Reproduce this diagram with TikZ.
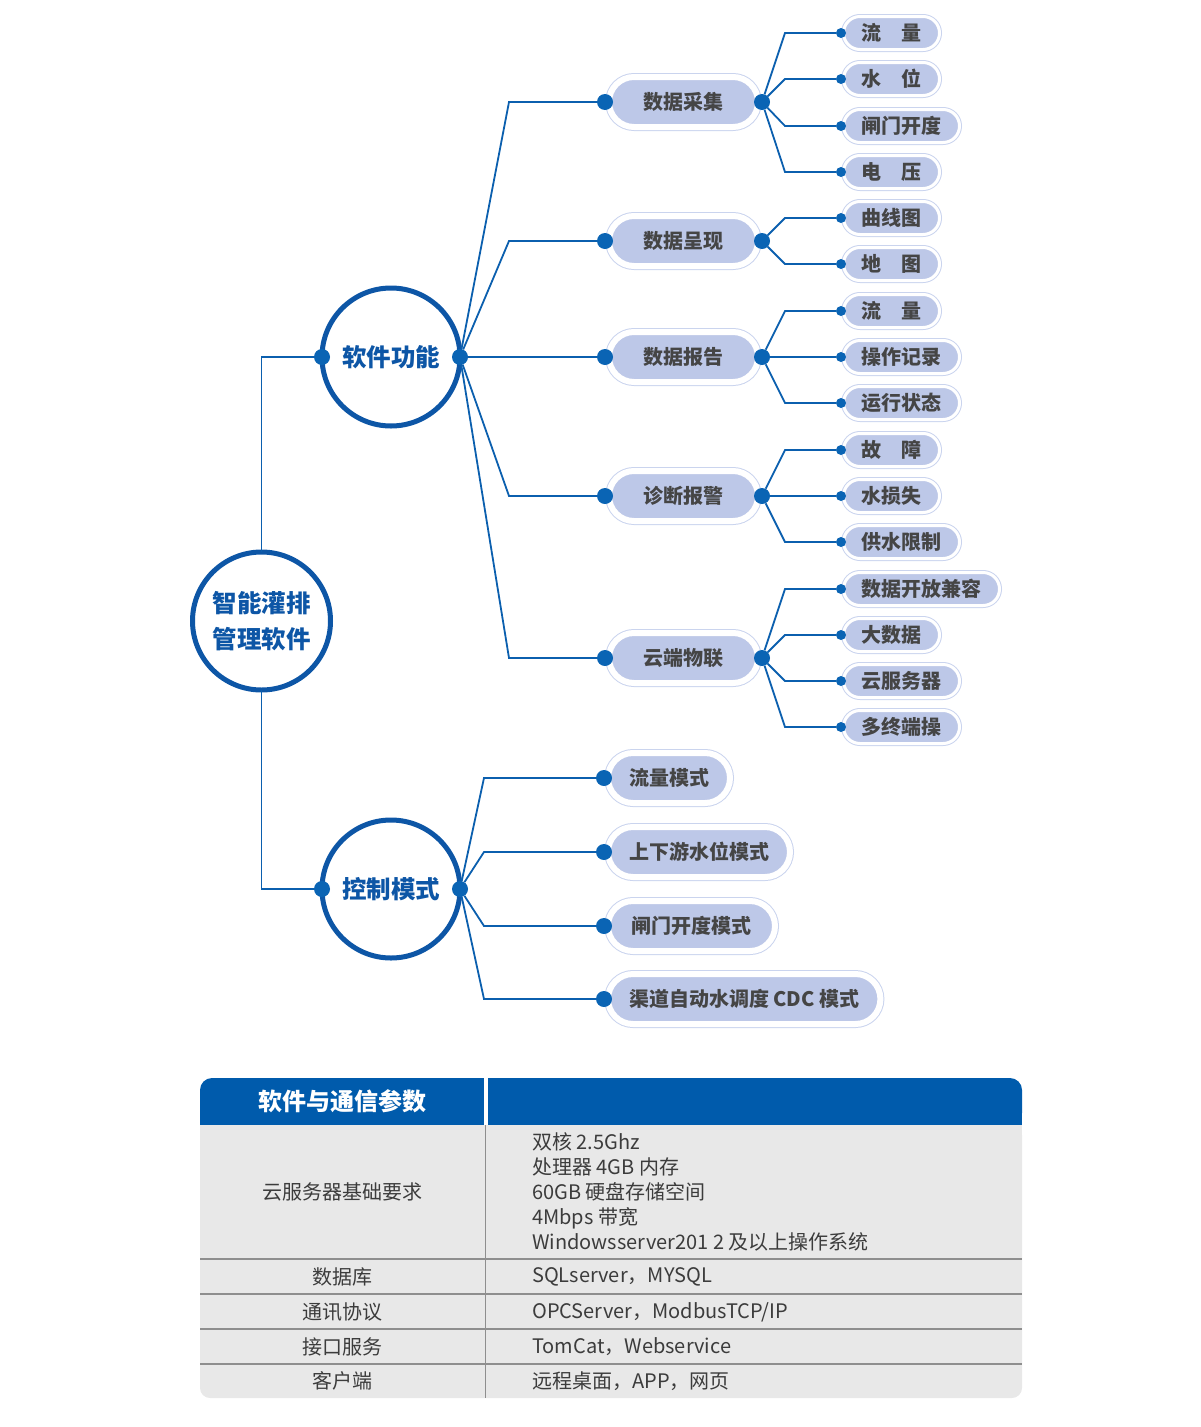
\documentclass[tikz,border=0pt]{standalone}
\usepackage{fontspec}
\setmainfont{Noto Sans CJK SC}
\usepackage{xcolor}
\usepackage{tikz}
\usetikzlibrary{calc}
\definecolor{lineblue}{HTML}{0B5FAE}
\definecolor{beadblue}{HTML}{0A64B4}
\definecolor{hubblue}{HTML}{0D56A6}
\definecolor{pillfill}{HTML}{BDC8E8}
\definecolor{pillring}{HTML}{CAD4EE}
\definecolor{pilltext}{HTML}{454545}
\definecolor{headblue}{HTML}{005BAC}
\definecolor{tablegray}{HTML}{E8E8E8}
\definecolor{rulegray}{HTML}{8E8E8E}
\definecolor{celltext}{HTML}{3C3C3C}
\tikzstyle{branch} = [draw=lineblue, line width=1.8pt]
\tikzstyle{bead} = [circle, fill=beadblue, inner sep=0pt, minimum size=10pt]
\tikzstyle{bigbead} = [circle, fill=beadblue, inner sep=0pt, minimum size=16pt]
\tikzstyle{hub} = [circle, draw=hubblue, line width=5pt, fill=white, minimum size=138pt, inner sep=0pt, outer sep=0pt, text=hubblue, font=\fontsize{24.5}{36}\selectfont\bfseries, align=center]
\tikzstyle{midpill} = [rectangle, rounded corners=25pt, minimum width=149pt, minimum height=50pt, inner sep=0pt, outer sep=4pt, fill=pillfill, draw=white, line width=6pt, preaction={draw=pillring, line width=8pt}, text=pilltext, font=\fontsize{20}{24}\selectfont\bfseries]
\tikzstyle{leafpill} = [rectangle, rounded corners=16.5pt, minimum height=33pt, inner xsep=18pt, inner ysep=0pt, outer sep=2.5pt, fill=pillfill, draw=white, line width=3pt, preaction={draw=pillring, line width=5pt}, anchor=west, text=pilltext, font=\fontsize{20}{24}\selectfont\bfseries]
\tikzstyle{modepill} = [rectangle, rounded corners=25pt, minimum height=50pt, inner xsep=21pt, inner ysep=0pt, outer sep=4pt, fill=pillfill, draw=white, line width=6pt, preaction={draw=pillring, line width=8pt}, anchor=west, text=pilltext, font=\fontsize{20}{24}\selectfont\bfseries]
\tikzstyle{cell} = [inner sep=0pt, text=celltext, font=\fontsize{20}{25}\selectfont]

\begin{document}
\begin{tikzpicture}[x=1pt,y=-1pt]
\useasboundingbox (0,0) rectangle (1200,1427);
% hubs
\node[hub] (root) at (261.5,621) {智能灌排\\管理软件};
\node[hub] (sw) at (391,357) {软件功能};
\node[hub] (ctl) at (391,889) {控制模式};
\node[bigbead] (sw-l) at (sw.west) {};
\node[bigbead] (sw-r) at (sw.east) {};
\node[bigbead] (ctl-l) at (ctl.west) {};
\node[bigbead] (ctl-r) at (ctl.east) {};
\draw[branch] (root.north) |- (sw-l);
\draw[branch] (root.south) |- (ctl-l);
% software functions
\node[midpill] (cj) at (683.5,102) {数据采集};
\node[midpill] (cx) at (683.5,241) {数据呈现};
\node[midpill] (bg) at (683.5,357) {数据报告};
\node[midpill] (zd) at (683.5,496) {诊断报警};
\node[midpill] (yd) at (683.5,658) {云端物联};
\node[bigbead] (cj-l) at (cj.west) {};
\node[bigbead] (cj-r) at (cj.east) {};
\node[bigbead] (cx-l) at (cx.west) {};
\node[bigbead] (cx-r) at (cx.east) {};
\node[bigbead] (bg-l) at (bg.west) {};
\node[bigbead] (bg-r) at (bg.east) {};
\node[bigbead] (zd-l) at (zd.west) {};
\node[bigbead] (zd-r) at (zd.east) {};
\node[bigbead] (yd-l) at (yd.west) {};
\node[bigbead] (yd-r) at (yd.east) {};
\draw[branch] (sw-r) -- ([xshift=-96pt]cj-l.center) -- (cj-l);
\draw[branch] (sw-r) -- ([xshift=-96pt]cx-l.center) -- (cx-l);
\draw[branch] (sw-r) -- (bg-l);
\draw[branch] (sw-r) -- ([xshift=-96pt]zd-l.center) -- (zd-l);
\draw[branch] (sw-r) -- ([xshift=-96pt]yd-l.center) -- (yd-l);
% leaves
\node[leafpill] (cj-1) at (841,33) {流　量};
\node[leafpill] (cj-2) at (841,79) {水　位};
\node[leafpill] (cj-3) at (841,126) {闸门开度};
\node[leafpill] (cj-4) at (841,172) {电　压};
\node[leafpill] (cx-1) at (841,218) {曲线图};
\node[leafpill] (cx-2) at (841,264) {地　图};
\node[leafpill] (bg-1) at (841,311) {流　量};
\node[leafpill] (bg-2) at (841,357) {操作记录};
\node[leafpill] (bg-3) at (841,403) {运行状态};
\node[leafpill] (zd-1) at (841,450) {故　障};
\node[leafpill] (zd-2) at (841,496) {水损失};
\node[leafpill] (zd-3) at (841,542) {供水限制};
\node[leafpill] (yd-1) at (841,589) {数据开放兼容};
\node[leafpill] (yd-2) at (841,635) {大数据};
\node[leafpill] (yd-3) at (841,681) {云服务器};
\node[leafpill] (yd-4) at (841,727) {多终端操};
\node[bead] (cj-1b) at (cj-1.west) {};
\node[bead] (cj-2b) at (cj-2.west) {};
\node[bead] (cj-3b) at (cj-3.west) {};
\node[bead] (cj-4b) at (cj-4.west) {};
\node[bead] (cx-1b) at (cx-1.west) {};
\node[bead] (cx-2b) at (cx-2.west) {};
\node[bead] (bg-1b) at (bg-1.west) {};
\node[bead] (bg-2b) at (bg-2.west) {};
\node[bead] (bg-3b) at (bg-3.west) {};
\node[bead] (zd-1b) at (zd-1.west) {};
\node[bead] (zd-2b) at (zd-2.west) {};
\node[bead] (zd-3b) at (zd-3.west) {};
\node[bead] (yd-1b) at (yd-1.west) {};
\node[bead] (yd-2b) at (yd-2.west) {};
\node[bead] (yd-3b) at (yd-3.west) {};
\node[bead] (yd-4b) at (yd-4.west) {};
\draw[branch] (cj-r) -- ([xshift=-56pt]cj-1b.center) -- (cj-1b);
\draw[branch] (cj-r) -- ([xshift=-56pt]cj-2b.center) -- (cj-2b);
\draw[branch] (cj-r) -- ([xshift=-56pt]cj-3b.center) -- (cj-3b);
\draw[branch] (cj-r) -- ([xshift=-56pt]cj-4b.center) -- (cj-4b);
\draw[branch] (cx-r) -- ([xshift=-56pt]cx-1b.center) -- (cx-1b);
\draw[branch] (cx-r) -- ([xshift=-56pt]cx-2b.center) -- (cx-2b);
\draw[branch] (bg-r) -- ([xshift=-56pt]bg-1b.center) -- (bg-1b);
\draw[branch] (bg-r) -- (bg-2b);
\draw[branch] (bg-r) -- ([xshift=-56pt]bg-3b.center) -- (bg-3b);
\draw[branch] (zd-r) -- ([xshift=-56pt]zd-1b.center) -- (zd-1b);
\draw[branch] (zd-r) -- (zd-2b);
\draw[branch] (zd-r) -- ([xshift=-56pt]zd-3b.center) -- (zd-3b);
\draw[branch] (yd-r) -- ([xshift=-56pt]yd-1b.center) -- (yd-1b);
\draw[branch] (yd-r) -- ([xshift=-56pt]yd-2b.center) -- (yd-2b);
\draw[branch] (yd-r) -- ([xshift=-56pt]yd-3b.center) -- (yd-3b);
\draw[branch] (yd-r) -- ([xshift=-56pt]yd-4b.center) -- (yd-4b);
% control modes
\node[modepill] (ll) at (604,778) {流量模式};
\node[modepill] (sx) at (604,852) {上下游水位模式};
\node[modepill, minimum width=167pt] (zm) at (604,926) {闸门开度模式};
\node[modepill] (cdc) at (604,999) {渠道自动水调度 CDC 模式};
\node[bigbead] (ll-l) at (ll.west) {};
\node[bigbead] (sx-l) at (sx.west) {};
\node[bigbead] (zm-l) at (zm.west) {};
\node[bigbead] (cdc-l) at (cdc.west) {};
\draw[branch] (ctl-r) -- ([xshift=-120pt]ll-l.center) -- (ll-l);
\draw[branch] (ctl-r) -- ([xshift=-120pt]sx-l.center) -- (sx-l);
\draw[branch] (ctl-r) -- ([xshift=-120pt]zm-l.center) -- (zm-l);
\draw[branch] (ctl-r) -- ([xshift=-120pt]cdc-l.center) -- (cdc-l);
% table
\fill[headblue, rounded corners=12pt] (200,1078) rectangle (1022,1125);
\fill[headblue] (200,1105) rectangle (1022,1125);
\fill[tablegray, rounded corners=10pt] (200,1125) rectangle (1022,1398);
\fill[tablegray] (200,1125) rectangle (1022,1150);
\draw[white, line width=4pt] (485.5,1078) -- (485.5,1125);
\draw[rulegray, line width=1.2pt] (485.5,1125) -- (485.5,1398);
\draw[rulegray, line width=2pt] (200,1259) -- (1022,1259);
\draw[rulegray, line width=2pt] (200,1294) -- (1022,1294);
\draw[rulegray, line width=2pt] (200,1329) -- (1022,1329);
\draw[rulegray, line width=2pt] (200,1364) -- (1022,1364);
\node[cell, text=white, font=\fontsize{24}{28}\selectfont\bfseries] (t-h) at (342.5,1101) {软件与通信参数};
\node[cell] (t-1l) at (342.5,1192) {云服务器基础要求};
\node[cell, anchor=west, align=left] (t-1r) at (532,1192) {双核 2.5Ghz\\处理器 4GB 内存\\60GB 硬盘存储空间\\4Mbps 带宽\\Windowsserver201 2 及以上操作系统};
\node[cell] (t-2l) at (342.5,1277) {数据库};
\node[cell, anchor=west] (t-2r) at (532,1277) {SQLserver，MYSQL};
\node[cell] (t-3l) at (342.5,1312) {通讯协议};
\node[cell, anchor=west] (t-3r) at (532,1312) {OPCServer，ModbusTCP/IP};
\node[cell] (t-4l) at (342.5,1347) {接口服务};
\node[cell, anchor=west] (t-4r) at (532,1347) {TomCat，Webservice};
\node[cell] (t-5l) at (342.5,1381) {客户端};
\node[cell, anchor=west] (t-5r) at (532,1381) {远程桌面，APP，网页};
\end{tikzpicture}
\end{document}
